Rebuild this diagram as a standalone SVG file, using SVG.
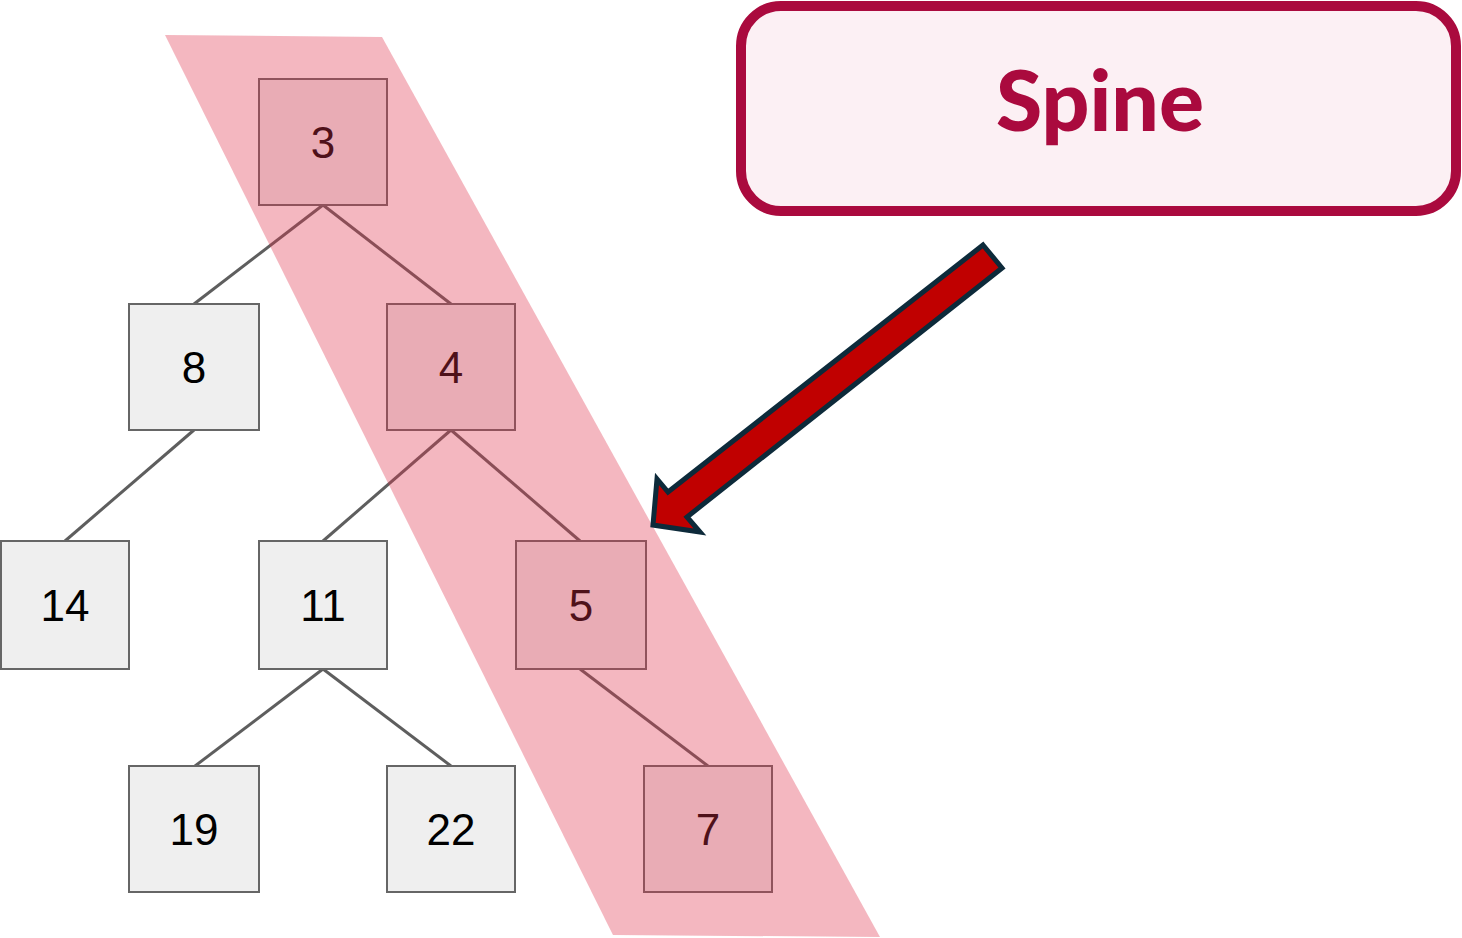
<svg xmlns="http://www.w3.org/2000/svg" width="1462" height="938" viewBox="0 0 1462 938">
  <style>
    .node rect { fill: #efefef; stroke: #666666; stroke-width: 2; }
    .node text { font-family: "Liberation Sans", Arial, sans-serif; font-size: 44px; fill: #000000; text-anchor: middle; dominant-baseline: central; }
    .edge { stroke: #5e5e5e; stroke-width: 3; fill: none; }
    .spine-band { fill: #e0304a; fill-opacity: 0.35; }
    .callout rect { fill: #fcf0f4; stroke: #aa0a3e; stroke-width: 10; }
    .callout text { font-family: Lato, "Open Sans", sans-serif; font-weight: 900; font-size: 84px; fill: #aa0a3e; text-anchor: middle; }
    .pointer { fill: #c00000; stroke: #0d2a3a; stroke-width: 5; stroke-linejoin: miter; }
  </style>

  <!-- tree edges: parent bottom-centre to child top-centre -->
  <g id="connectors">
    <line class="edge" x1="323" y1="205" x2="194" y2="304"/>
    <line class="edge" x1="323" y1="205" x2="451" y2="304"/>
    <line class="edge" x1="194" y1="430" x2="65" y2="541"/>
    <line class="edge" x1="451" y1="430" x2="323" y2="541"/>
    <line class="edge" x1="451" y1="430" x2="580" y2="541"/>
    <line class="edge" x1="323" y1="669" x2="195" y2="766"/>
    <line class="edge" x1="323" y1="669" x2="451" y2="766"/>
    <line class="edge" x1="580" y1="669" x2="708" y2="766"/>
  </g>

  <g id="node-3" class="node"><rect x="259" y="79" width="128" height="126"/><text x="323" y="142">3</text></g>
  <g id="node-8" class="node"><rect x="129" y="304" width="130" height="126"/><text x="194" y="367">8</text></g>
  <g id="node-4" class="node"><rect x="387" y="304" width="128" height="126"/><text x="451" y="367">4</text></g>
  <g id="node-14" class="node"><rect x="1" y="541" width="128" height="128"/><text x="65" y="605">14</text></g>
  <g id="node-11" class="node"><rect x="259" y="541" width="128" height="128"/><text x="323" y="605">11</text></g>
  <g id="node-5" class="node"><rect x="516" y="541" width="130" height="128"/><text x="581" y="605">5</text></g>
  <g id="node-19" class="node"><rect x="129" y="766" width="130" height="126"/><text x="194" y="829">19</text></g>
  <g id="node-22" class="node"><rect x="387" y="766" width="128" height="126"/><text x="451" y="829">22</text></g>
  <g id="node-7" class="node"><rect x="644" y="766" width="128" height="126"/><text x="708" y="829">7</text></g>

  <!-- translucent band over the right spine -->
  <polygon id="spine-band" class="spine-band" points="165,35 382,37 880,937 613,935"/>

  <!-- label callout -->
  <g id="spine-label" class="callout">
    <rect x="741" y="6" width="715" height="205" rx="40" ry="40"/>
    <text x="1100" y="131">Spine</text>
  </g>

  <!-- block arrow pointing at the spine -->
  <g id="pointer-arrow">
    <polygon class="pointer" points="983,245 1002,268 687,517 700,532 653,525 657,479 668,492"/>
  </g>
</svg>
